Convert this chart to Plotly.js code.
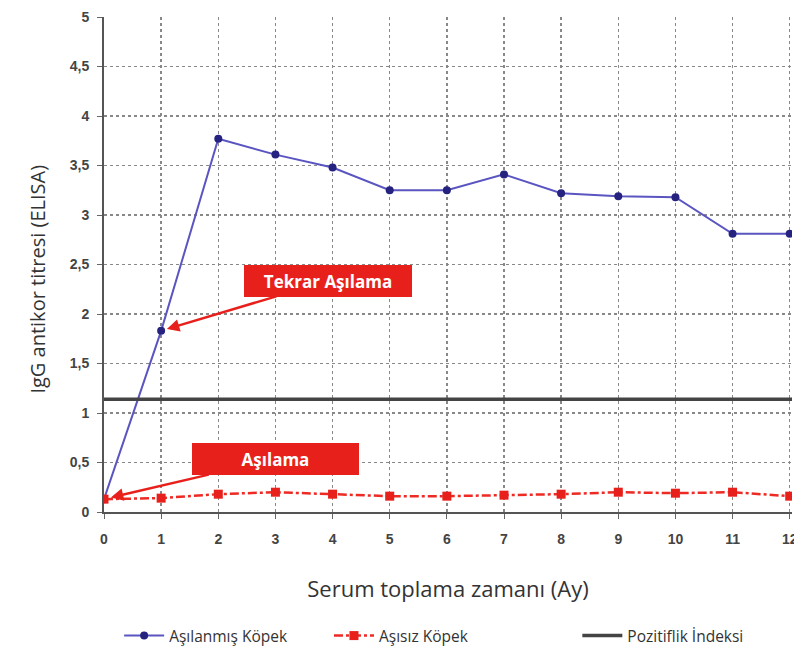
<!DOCTYPE html>
<html><head><meta charset="utf-8">
<script src="https://cdn.plot.ly/plotly-3.0.1.min.js"></script>
<style>body{margin:0;background:#fff}#c{width:794px;height:654px}</style>
</head><body><div id="c"></div>
<script>
const months = [0,1,2,3,4,5,6,7,8,9,10,11,12];
const asilanmis = [0.13,1.83,3.77,3.61,3.48,3.25,3.25,3.41,3.22,3.19,3.18,2.81,2.81];
const asisiz = [0.13,0.14,0.18,0.20,0.18,0.16,0.16,0.17,0.18,0.20,0.19,0.20,0.16];
const pozitifX = [0,12.1];
const pozitifY = [1.14,1.14];
const yTicks = [0,0.5,1,1.5,2,2.5,3,3.5,4,4.5,5];
const yTickText = ['0','0,5','1','1,5','2','2,5','3','3,5','4','4,5','5'];
const names = ['Aşılanmış Köpek','Aşısız Köpek','Pozitiflik İndeksi'];
const yTitle = 'IgG antikor titresi (ELISA)';
const xTitle = 'Serum toplama zamanı (Ay)';

const tf = {family:'Liberation Sans, Arial, sans-serif', size:14, color:'#444', weight:'bold'};
const lf = {family:'Open Sans, sans-serif', size:15.5, color:'#333'};

const traces = [
  {x:months, y:asilanmis, name:names[0], mode:'lines+markers', legend:'legend',
   line:{color:'#5a55c0', width:2}, marker:{color:'#25237f', size:8, symbol:'circle'}},
  {x:months, y:asisiz, name:names[1], mode:'lines+markers', legend:'legend2',
   line:{color:'#ee2a24', width:2.5, dash:'dashdot'}, marker:{color:'#e8201c', size:9, symbol:'square'}},
  {x:pozitifX, y:pozitifY, name:names[2], mode:'lines', legend:'legend3',
   line:{color:'#444', width:3.5}}
];

const legBase = {orientation:'h', yanchor:'middle', xanchor:'left', font:lf, bgcolor:'rgba(0,0,0,0)', itemwidth:40};

const layout = {
  width:794, height:654,
  margin:{l:104, r:2, t:17, b:141},
  paper_bgcolor:'#fff', plot_bgcolor:'#fff',
  showlegend:true,
  xaxis:{range:[0,12.04], tickvals:months, ticktext:months.map(String), ticks:'outside', ticklen:5, tickcolor:'#666',
    ticklabelstandoff:8, ticklabeloverflow:'allow',
    showline:true, linecolor:'#555', linewidth:2, showgrid:true, gridcolor:'#888', griddash:'dot', gridwidth:1.3,
    zeroline:false, tickfont:tf,
    title:{text:xTitle, font:{family:'Open Sans, sans-serif', size:22, color:'#333'}, standoff:36}},
  yaxis:{range:[0,5], tickvals:yTicks, ticktext:yTickText, ticks:'outside', ticklen:5, tickcolor:'#666',
    ticklabelstandoff:5,
    showline:true, linecolor:'#555', linewidth:2, showgrid:true, gridcolor:'#888', griddash:'dot', gridwidth:1.3,
    zeroline:false, tickfont:tf},
  legend:Object.assign({}, legBase, {x:0.022, y:-0.248}),
  legend2:Object.assign({}, legBase, {x:0.327, y:-0.248}),
  legend3:Object.assign({}, legBase, {x:0.688, y:-0.248}),
  annotations:[
    {x:-0.097, y:0.47, xref:'paper', yref:'paper', text:yTitle, showarrow:false, textangle:-90,
     xanchor:'center', yanchor:'middle',
     font:{family:'Open Sans, sans-serif', size:20, color:'#333'}},
    {x:months[1], y:asilanmis[1], xref:'x', yref:'y', text:'Tekrar Aşılama', showarrow:true,
     ax:167, ay:-50, arrowhead:2, arrowsize:1, arrowwidth:2.5, arrowcolor:'#e8201c', standoff:6,
     bgcolor:'#e8201c', bordercolor:'#e8201c', width:160, height:24, borderpad:3,
     font:{family:'Open Sans, sans-serif', size:17, color:'#fff', weight:'bold'}},
    {x:months[0], y:asisiz[0], xref:'x', yref:'y', text:'Aşılama', showarrow:true,
     ax:171, ay:-40, arrowhead:2, arrowsize:1, arrowwidth:2.5, arrowcolor:'#e8201c', standoff:7,
     bgcolor:'#e8201c', bordercolor:'#e8201c', width:159, height:24, borderpad:3,
     font:{family:'Open Sans, sans-serif', size:17, color:'#fff', weight:'bold'}}
  ]
};
Plotly.newPlot('c', traces, layout, {displayModeBar:false, staticPlot:true});
</script></body></html>
